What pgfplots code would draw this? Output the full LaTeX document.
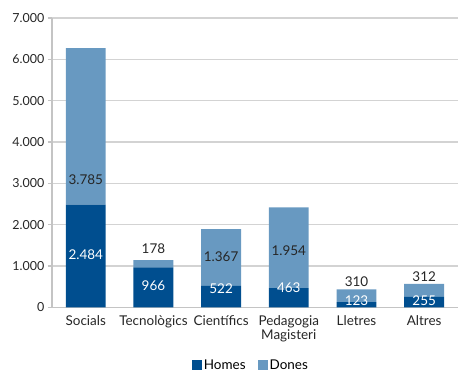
\documentclass[border=0pt]{standalone}
\usepackage{pgfplots}
\pgfplotsset{compat=1.18}
\usepackage{fontspec}
\setmainfont{Lato}
\definecolor{homes}{HTML}{004E8F}
\definecolor{dones}{HTML}{6899C1}
\definecolor{gridc}{HTML}{D3D3D3}
\definecolor{axc}{HTML}{C4C4C4}
\begin{document}
\begin{tikzpicture}
\begin{axis}[
  name=ax,
  scale only axis,
  width=407pt, height=290pt,
  ybar stacked,
  bar width=40pt,
  xmin=-0.5, xmax=5.5,
  ymin=0, ymax=7000,
  ytick={0,1000,...,7000},
  xtick={0,...,5},
  xticklabels={Socials,Tecnològics,Científics,{Pedagogia\\Magisteri},Lletres,Altres},
  xticklabel style={align=center, anchor=north, yshift=-1pt, font=\fontsize{13.5}{14}\selectfont},
  yticklabel style={font=\fontsize{12.5}{13}\selectfont},
  major x tick style={draw=none},
  ytick style={draw=axc, line width=1.2pt},
  tick align=outside,
  major tick length=4pt,
  ymajorgrids,
  grid style={draw=gridc, line width=1.6pt},
  axis x line*=bottom,
  axis y line*=left,
  axis line style={draw=axc, line width=1.6pt, -},
  tick label style={text=black!85},
  /pgf/number format/1000 sep={.},
  /pgf/number format/assume math mode=true,
  legend style={at={(0.49,-0.2)}, anchor=center, draw=none,
    legend columns=2, font=\fontsize{13.5}{14}\selectfont,
    /tikz/every even column/.append style={column sep=10pt}},
  legend image code/.code={\fill[#1] (0pt,-4.5pt) rectangle (10pt,5.5pt);},
  clip=false,
]
\addplot[fill=homes, draw=none] coordinates {(0,2484) (1,966) (2,522) (3,463) (4,123) (5,255)};
\addplot[fill=dones, draw=none] coordinates {(0,3785) (1,178) (2,1367) (3,1954) (4,310) (5,312)};
\legend{Homes,Dones}
\coordinate (h0) at (axis cs:0,1270);
\coordinate (h1) at (axis cs:1,520);
\coordinate (h2) at (axis cs:2,450);
\coordinate (h3) at (axis cs:3,470);
\coordinate (h4) at (axis cs:4,160);
\coordinate (h5) at (axis cs:5,160);
\coordinate (d0) at (axis cs:0,3100);
\coordinate (d1) at (axis cs:1,1410);
\coordinate (d2) at (axis cs:2,1220);
\coordinate (d3) at (axis cs:3,1360);
\coordinate (d4) at (axis cs:4,620);
\coordinate (d5) at (axis cs:5,740);
\end{axis}
\begin{scope}[every node/.style={font=\fontsize{13.5}{14}\selectfont}]
\node[text=white] at (h0) {2.484};
\node[text=white] at (h1) {966};
\node[text=white] at (h2) {522};
\node[text=white] at (h3) {463};
\node[text=white] at (h4) {123};
\node[text=white] at (h5) {255};
\node[text=black!85] at (d0) {3.785};
\node[text=black!85] at (d1) {178};
\node[text=black!85] at (d2) {1.367};
\node[text=black!85] at (d3) {1.954};
\node[text=black!85] at (d4) {310};
\node[text=black!85] at (d5) {312};
\end{scope}
\pgfresetboundingbox
\path (ax.south west) ++(-52pt,-66pt) coordinate (bl);
\path (ax.north east) ++(0pt,18pt) coordinate (tr);
\path[use as bounding box] (bl) rectangle (tr);
\end{tikzpicture}
\end{document}
